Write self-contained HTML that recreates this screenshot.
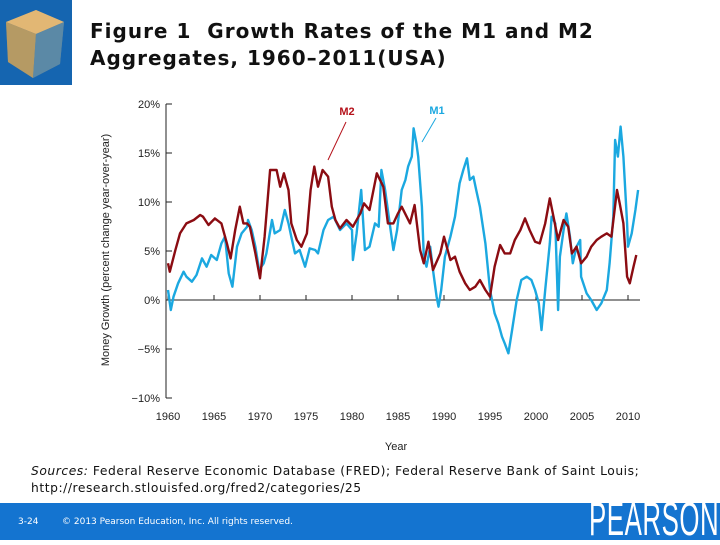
<!DOCTYPE html>
<html><head><meta charset="utf-8">
<style>
body{margin:0;width:720px;height:540px;overflow:hidden;background:#fff;position:relative;font-family:"Liberation Sans",sans-serif}
.title{position:absolute;left:90px;top:18px;font-family:"DejaVu Sans",sans-serif;font-weight:bold;font-size:20px;letter-spacing:1px;line-height:27px;color:#111;white-space:nowrap}
.src{position:absolute;left:31px;top:463px;font-family:"DejaVu Sans",sans-serif;font-size:12.3px;letter-spacing:0.55px;line-height:17px;color:#111;white-space:nowrap}
.footer{position:absolute;left:0;top:503px;width:720px;height:37px;background:#1474d0}
.ft{position:absolute;top:14px;font-size:9px;color:#fff;font-family:"DejaVu Sans",sans-serif}
.logo{position:absolute;left:589px;top:497px;color:#fff;font-size:47px;font-family:"Liberation Sans",sans-serif;transform:scaleX(0.55);transform-origin:left top;line-height:43px;letter-spacing:1px;white-space:nowrap}
</style></head><body>
<div style="position:absolute;left:0;top:0;width:72px;height:85px;background:#1565b0">
<svg width="72" height="85"><polygon points="6,22 36,10 64,22 60,64 33,78 8,62" fill="#6b7f8a"/><polygon points="6,22 36,10 64,22 36,34" fill="#e2b774"/><polygon points="6,22 36,34 33,78 8,62" fill="#b59a64"/><polygon points="36,34 64,22 60,64 33,78" fill="#5b89a6"/></svg></div>
<div class="title">Figure 1&nbsp; Growth Rates of the M1 and M2<br>Aggregates, 1960–2011(USA)</div>
<svg id="chart" width="720" height="540" style="position:absolute;left:0;top:0"></svg>
<div class="src"><i>Sources:</i> Federal Reserve Economic Database (FRED); Federal Reserve Bank of Saint Louis;<br>http://research.stlouisfed.org/fred2/categories/25</div>
<div class="footer">
<span class="ft" style="left:18px">3-24</span>
<span class="ft" style="left:62px">© 2013 Pearson Education, Inc. All rights reserved.</span>
</div>
<div class="logo">PEARSON</div>
<script>
const yTicks=[20,15,10,5,0,-5,-10];
const yTickLabels=["20%","15%","10%","5%","0%","\u22125%","\u221210%"];
const xTicks=[1960,1965,1970,1975,1980,1985,1990,1995,2000,2005,2010];
const m1Years=[1960.0,1960.3,1960.6,1961.1,1961.7,1962.0,1962.6,1963.1,1963.7,1964.2,1964.7,1965.3,1965.8,1966.2,1966.6,1967.0,1967.5,1968.0,1968.6,1968.7,1969.1,1969.5,1969.9,1970.4,1970.7,1971.3,1971.6,1972.2,1972.7,1973.1,1973.4,1973.8,1974.3,1974.9,1975.4,1976.0,1976.3,1976.9,1977.4,1978.0,1978.7,1979.4,1980.0,1980.1,1980.5,1981.0,1981.4,1981.9,1982.5,1982.9,1983.2,1983.6,1984.1,1984.5,1984.9,1985.4,1985.8,1986.1,1986.5,1986.7,1987.0,1987.2,1987.6,1987.8,1988.1,1988.5,1988.8,1989.2,1989.4,1989.7,1990.1,1990.7,1991.2,1991.7,1992.1,1992.5,1992.8,1993.2,1993.5,1993.9,1994.5,1995.0,1995.5,1995.9,1996.3,1996.6,1997.0,1997.4,1997.9,1998.4,1999.0,1999.5,1999.9,2000.3,2000.6,2001.0,2001.5,2001.7,2002.1,2002.4,2002.6,2003.0,2003.3,2003.7,2004.0,2004.4,2004.8,2004.9,2005.5,2006.0,2006.6,2007.1,2007.7,2008.0,2008.4,2008.6,2008.9,2009.2,2009.5,2009.9,2010.0,2010.4,2010.8,2011.1];
const m1Values=[1.02,-1.02,0.34,1.70,2.89,2.38,1.87,2.55,4.25,3.40,4.59,4.08,5.78,6.46,2.72,1.36,5.44,6.80,7.48,8.16,7.14,5.44,3.06,3.74,4.76,8.16,6.80,7.14,9.18,7.82,6.46,4.76,5.10,3.40,5.27,5.10,4.76,7.14,8.16,8.50,7.14,7.82,7.14,4.08,6.80,11.22,5.10,5.44,7.82,7.48,13.27,11.22,7.82,5.10,7.14,11.22,12.25,13.61,14.63,17.52,15.99,14.63,9.52,4.42,3.40,5.44,3.06,0.34,-0.68,1.02,4.42,6.46,8.50,11.91,13.27,14.46,12.25,12.59,11.22,9.52,5.78,1.02,-1.36,-2.38,-3.74,-4.42,-5.44,-3.06,0.00,2.04,2.38,2.04,1.02,-0.34,-3.06,1.02,5.78,8.50,7.82,-1.02,4.42,7.14,8.84,6.46,3.74,5.44,6.12,2.38,0.68,0.00,-1.02,-0.34,1.02,3.74,8.50,16.33,14.63,17.69,14.63,7.82,5.44,6.80,9.18,11.22];
const m2Years=[1960.0,1960.2,1960.8,1961.3,1962.0,1962.8,1963.5,1963.8,1964.4,1965.1,1965.8,1966.4,1966.8,1967.3,1967.8,1968.2,1968.6,1968.9,1969.5,1970.0,1970.5,1971.1,1971.8,1972.2,1972.6,1973.1,1973.4,1974.0,1974.5,1975.1,1975.5,1975.9,1976.3,1976.8,1977.4,1977.8,1978.2,1978.7,1979.4,1980.1,1980.9,1981.3,1981.9,1982.7,1983.4,1983.9,1984.5,1985.0,1985.4,1986.3,1986.8,1987.4,1987.8,1988.3,1988.8,1989.6,1990.0,1990.7,1991.2,1991.7,1992.3,1992.8,1993.4,1993.9,1994.5,1995.0,1995.5,1996.1,1996.6,1997.2,1997.7,1998.3,1998.8,1999.3,1999.9,2000.4,2001.0,2001.5,2001.9,2002.4,2003.0,2003.5,2003.9,2004.4,2004.9,2005.5,2006.0,2006.6,2007.1,2007.7,2008.2,2008.8,2009.1,2009.5,2009.9,2010.2,2010.6,2010.9];
const m2Values=[3.74,2.89,5.10,6.80,7.82,8.16,8.67,8.50,7.65,8.33,7.82,5.78,4.25,7.14,9.52,7.82,7.82,7.48,4.76,2.21,6.46,13.27,13.27,11.56,12.93,11.22,7.82,6.12,5.44,6.80,11.22,13.61,11.56,13.27,12.59,9.52,8.16,7.31,8.16,7.48,8.84,9.86,9.18,12.93,11.56,7.82,7.82,8.84,9.52,7.82,9.69,5.10,3.74,5.95,3.06,4.76,6.46,4.08,4.42,2.89,1.70,1.02,1.36,2.04,1.02,0.34,3.40,5.61,4.76,4.76,6.12,7.14,8.33,7.14,5.95,5.78,7.82,10.37,8.50,6.12,8.16,7.48,4.76,5.44,3.74,4.42,5.44,6.12,6.46,6.80,6.46,11.22,9.86,7.82,2.38,1.70,3.40,4.59];

const svg=document.getElementById('chart');
const NS='http://www.w3.org/2000/svg';
const X=y=>168+(y-1960)*9.2;
const Y=v=>300-v*9.8;
function mk(tag,at,txt){const e=document.createElementNS(NS,tag);for(const k in at)e.setAttribute(k,at[k]);if(txt!==undefined)e.textContent=txt;svg.appendChild(e);return e;}
let e=mk('line',{x1:166,y1:Y(20),x2:166,y2:Y(-10),stroke:'#222','stroke-width':1});


yTicks.forEach((v,i)=>{
  let t=mk('line',{x1:166,y1:Y(v),x2:172,y2:Y(v),stroke:'#222','stroke-width':1});
  
  
  let l=mk('text',{x:160,y:Y(v)+4,'text-anchor':'end','font-size':11,fill:'#222','font-family':'Liberation Sans, sans-serif'},yTickLabels[i]);
  
  
});
e=mk('line',{x1:166,y1:Y(0),x2:640,y2:Y(0),stroke:'#222','stroke-width':1});


xTicks.forEach(yr=>{
  let t=mk('line',{x1:X(yr),y1:Y(0),x2:X(yr),y2:Y(0)-5,stroke:'#222','stroke-width':1});
  
  
  let l=mk('text',{x:X(yr),y:420,'text-anchor':'middle','font-size':11,fill:'#222','font-family':'Liberation Sans, sans-serif'},String(yr));
  
  
});
e=mk('text',{x:396,y:450,'text-anchor':'middle','font-size':11,fill:'#222','font-family':'Liberation Sans, sans-serif'},'Year');


e=mk('text',{x:0,y:0,'text-anchor':'middle','font-size':11,fill:'#222','font-family':'Liberation Sans, sans-serif',transform:'translate(109,250) rotate(-90)'},'Money Growth (percent change year-over-year)');


function path(xs,vs){return xs.map((yr,i)=>(i?'L':'M')+X(yr).toFixed(1)+','+Y(vs[i]).toFixed(1)).join(' ');}
e=mk('path',{d:path(m1Years,m1Values),fill:'none',stroke:'#1ba8e0','stroke-width':2.4,'stroke-linejoin':'round'});


e=mk('path',{d:path(m2Years,m2Values),fill:'none',stroke:'#8b0c12','stroke-width':2.4,'stroke-linejoin':'round'});


e=mk('text',{x:347,y:115,'text-anchor':'middle','font-size':11,'font-weight':'bold',fill:'#b5121b','font-family':'Liberation Sans, sans-serif'},'M2');


e=mk('line',{x1:346,y1:122,x2:328,y2:160,stroke:'#b5121b','stroke-width':1});


e=mk('text',{x:437,y:114,'text-anchor':'middle','font-size':11,'font-weight':'bold',fill:'#1ba8e0','font-family':'Liberation Sans, sans-serif'},'M1');


e=mk('line',{x1:436,y1:118,x2:422,y2:142,stroke:'#1ba8e0','stroke-width':1});


</script>
</body></html>
